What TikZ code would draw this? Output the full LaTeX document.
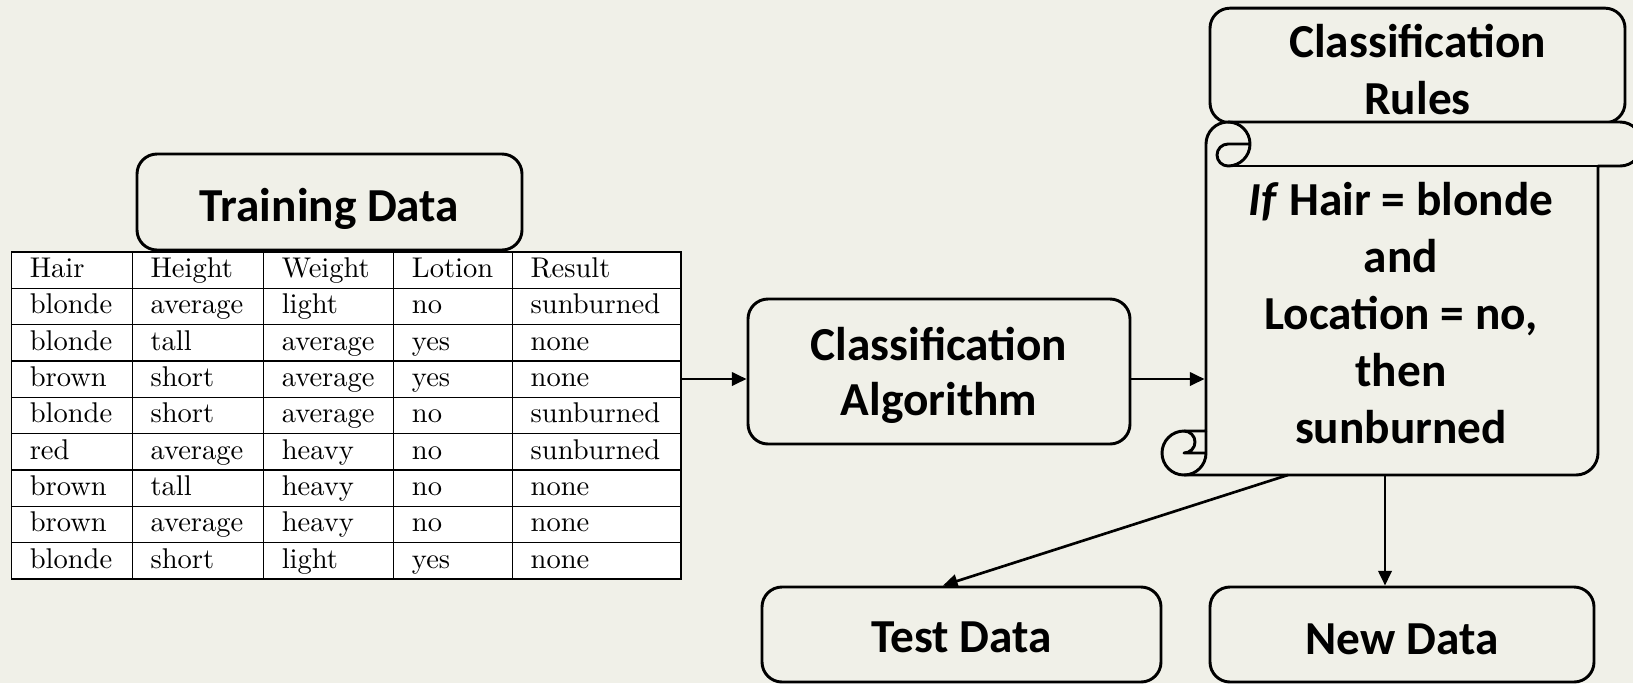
\documentclass[tikz,border=0pt]{standalone}
\usepackage{fontspec}
\newfontfamily\calib{Carlito}
\newfontfamily\tablefont{lmroman10-regular.otf}
\usetikzlibrary{arrows.meta}
\definecolor{canvas}{RGB}{240,240,232}
% centred lines of box text, drawn #1 lower while keeping their extent
\newcommand\boxlines[2]{\raisebox{-#1}[\height][\depth]{\begin{tabular}{@{}c@{}}#2\end{tabular}}}
\tikzset{
  roundbox/.style={draw, line width=2.2pt, rounded corners=15pt,
    inner sep=0pt, font=\calib\bfseries\fontsize{35.5}{42.75}\selectfont},
  flow/.style={line width=2pt, -{Triangle[length=11pt,width=10pt]}},
  cell/.style={anchor=base west, inner sep=0pt, font=\tablefont\fontsize{21.4}{26}\selectfont},
  grid line/.style={line width=1.1pt},
  scroll line/.style={line width=2.2pt, line join=round},
}
\begin{document}
\begin{tikzpicture}[x=0.75pt, y=-0.75pt]
% canvas
\fill[canvas] (0,0) rectangle (1633,683);
\useasboundingbox (0,0) rectangle (1633,683);

% ---- training table ----
\node[draw, grid line, fill=white, minimum width=502.2pt, minimum height=245.25pt,
      inner sep=0pt] (table) at (346.3,415.5) {};
\foreach \x in {132.3,263.5,393.7,512.4}
  \draw[grid line] (\x,252) -- (\x,579);
\foreach \i in {1,...,8}
  \draw[grid line] (11.5,252+\i*36.333) -- (681.1,252+\i*36.333);
\foreach \r/\a/\b/\c/\d/\e in {
  0/Hair/Height/Weight/Lotion/Result,
  1/blonde/average/light/no/sunburned,
  2/blonde/tall/average/yes/none,
  3/brown/short/average/yes/none,
  4/blonde/short/average/no/sunburned,
  5/red/average/heavy/no/sunburned,
  6/brown/tall/heavy/no/none,
  7/brown/average/heavy/no/none,
  8/blonde/short/light/yes/none}{
  \pgfmathsetmacro\yb{252+\r*36.333+25.4}
  \node[cell] (c\r-1) at (29.5,\yb) {\a};
  \node[cell] (c\r-2) at (150.3,\yb) {\b};
  \node[cell] (c\r-3) at (281.5,\yb) {\c};
  \node[cell] (c\r-4) at (411.7,\yb) {\d};
  \node[cell] (c\r-5) at (530.4,\yb) {\e};
}

% ---- boxes ----
\node[roundbox, fill=canvas, minimum width=288.75pt, minimum height=72pt]
  (train) at (329.5,202) {\boxlines{6.2pt}{Training Data}};
\node[roundbox, minimum width=286.5pt, minimum height=108.75pt,
      font=\calib\bfseries\fontsize{35.5}{41.25}\selectfont]
  (alg) at (939,371.5) {\boxlines{3.75pt}{Classification\\Algorithm}};
\node[roundbox, minimum width=311.25pt, minimum height=83.25pt,
      font=\calib\bfseries\fontsize{35.5}{43}\selectfont]
  (rules) at (1417.5,65.5) {\boxlines{7pt}{Classification\\Rules}};
\node[roundbox, minimum width=299.25pt, minimum height=71.25pt]
  (test) at (961.5,634.5) {\boxlines{5.1pt}{Test Data}};
\node[roundbox, minimum width=288pt, minimum height=71.25pt]
  (new) at (1402,634.5) {\boxlines{6.1pt}{New Data}};

% ---- scroll holding the rule ----
\fill[canvas] (1184,475) arc[start angle=90, end angle=0, radius=22]
  -- (1206,144) arc[start angle=180, end angle=270, radius=22]
  -- (1620,122) arc[start angle=270, end angle=450, radius=22]
  -- (1598,166) -- (1598,453) arc[start angle=0, end angle=90, radius=22]
  -- cycle;
\draw[scroll line] (1206,431) -- (1206,144)
  arc[start angle=180, end angle=270, radius=22]
  -- (1620,122) arc[start angle=270, end angle=450, radius=22]
  -- (1598,166) -- (1598,453) arc[start angle=0, end angle=90, radius=22]
  -- (1184,475) arc[start angle=90, end angle=270, radius=22] -- cycle;
\draw[scroll line] (1228,122) arc[start angle=270, end angle=450, radius=22]
  arc[start angle=90, end angle=270, radius=11] -- (1250,144);
\draw[scroll line] (1598,166) -- (1228,166);
\draw[scroll line] (1184,431) arc[start angle=270, end angle=450, radius=11] -- (1206,453);
\draw[scroll line] (1184,475) arc[start angle=90, end angle=0, radius=22] -- (1206,431);
\node[minimum width=294pt, minimum height=231.75pt, inner sep=0pt, outer sep=1.1pt]
  (scroll) at (1402,320.5) {};
\node[align=center, inner sep=0pt, font=\calib\bfseries\fontsize{35.5}{42.75}\selectfont]
  (ruletext) at (1401,313)
  {\textit{If} Hair = blonde\\and\\Location = no,\\then\\sunburned};

% ---- connectors ----
\coordinate (mid) at (0,379);
\coordinate (fork1) at (1288,475);
\coordinate (fork2) at (1385,475);
\draw[flow] (table.east |- mid) -- (alg.west |- mid);
\draw[flow] (alg.east |- mid) -- (scroll.west |- mid);
\draw[flow] (fork1) -- ([xshift=-13.9pt]test.north);
\draw[flow] (fork2) -- (new.north -| fork2);
\end{tikzpicture}
\end{document}
